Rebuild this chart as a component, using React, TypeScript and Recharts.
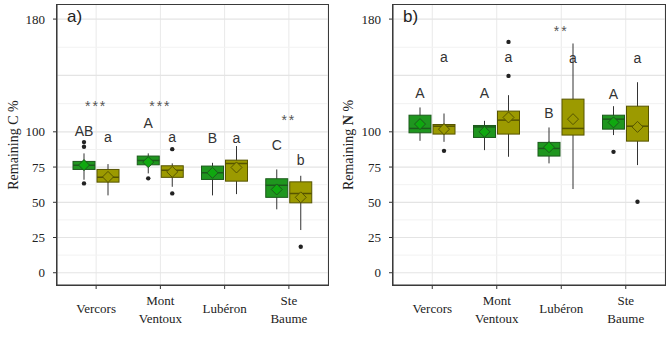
import React from "react"
import { ComposedChart, Bar, Scatter, XAxis, YAxis, CartesianGrid } from "recharts"

const CATS = ["Vercors", "Mont\nVentoux", "Lubéron", "Ste\nBaume"]
const Y_TICKS = [0, 25, 50, 75, 100, 180]
const GRID_MAJOR = [0, 25, 50, 75, 100, 140, 180]
const GRID_MINOR = [12.5, 37.5, 62.5, 87.5, 120, 160]

// box stats: [lower whisker, q1, median, q3, upper whisker]
const cGreenBox = [
    [66, 73.3, 76.2, 79, 84.7],
    [70.5, 76.6, 79.7, 82.8, 84.7],
    [54.9, 66.2, 70.9, 75.7, 78],
    [45, 53.5, 62, 66.7, 73.3],
]
const cGreenMean = [76.4, 78.5, 70.9, 59.1]
const cGreenOut = [[92.7, 89.4, 63.4], [67], [], []]
const cOliveBox = [
    [54.9, 64.3, 67.7, 73.3, 77.1],
    [61, 67.7, 72.8, 75.9, 77.6],
    [55.8, 65, 77.6, 79.9, 89.9],
    [30.3, 49.6, 56.3, 64.5, 68.8],
]
const cOliveMean = [68, 71.6, 74.7, 53.5]
const cOliveOut = [[], [87.7, 56.3], [], [18.4]]
const cGreenLetter = ["AB", "A", "B", "C"]
const cGreenLetterY = [97, 102.8, 91.8, 87]
const cOliveLetter = ["a", "a", "a", "b"]
const cOliveLetterY = [92.9, 92.9, 91.8, 76.4]
const cStars = ["***", "***", "", "**"]
const cStarY = [114.7, 114.7, null, 104.8]

const nGreenBox = [
    [93.6, 99.3, 102.4, 111.8, 117.3],
    [87, 96, 103.5, 104.5, 107.8],
    [77.6, 82.8, 88.2, 92.5, 103.1],
    [97.7, 101.9, 109, 111.8, 118.2],
]
const nGreenMean = [105.5, 100, 89.1, 106.7]
const nGreenOut = [[], [], [], [85.8]]
const nOliveBox = [
    [92.9, 98.4, 104, 105.2, 113],
    [82.3, 98.4, 108.3, 114.7, 126],
    [59.4, 97.7, 102.4, 123.2, 162.7],
    [76.4, 93.4, 104, 118.2, 135.2],
]
const nOliveMean = [101.9, 110.2, 109, 103.5]
const nOliveOut = [[86.5], [163.8, 139.7], [], [50.4]]
const nGreenLetter = ["A", "A", "B", "A"]
const nGreenLetterY = [124.3, 124.3, 109.5, 123.2]
const nOliveLetter = ["a", "a", "a", "a"]
const nOliveLetterY = [149.7, 149.7, 149, 149]
const nStars = ["", "", "**", ""]
const nStarY = [null, null, 167.9, null]

const GREEN = "#1f961f"
const GREEN_EDGE = "#1c5a1c"
const GREEN_MEAN = "#0fa80f"
const OLIVE = "#9c9a00"
const OLIVE_EDGE = "#565400"
const SERIF = "Liberation Serif, serif"
const SANS = "Liberation Sans, Arial, sans-serif"

type Series = {
    box: number[][]
    mean: number[]
    out: number[][]
    letter: string[]
    letterY: number[]
    fill: string
    edge: string
    meanFill: string
}

// draws a full boxplot from the bar's [lo, hi] pixel span (linear y scale)
const makeBoxShape = (s: Series) => (props: any) => {
    const { x, y, width, height, index } = props
    const [lo, q1, med, q3, hi] = s.box[index]
    const top = Math.min(y, y + height)
    const bot = Math.max(y, y + height)
    const k = (bot - top) / (hi - lo)
    const py = (v: number) => bot - (v - lo) * k
    const cx = x + width / 2
    const my = py(s.mean[index])
    return (
        <g>
            <line x1={cx} x2={cx} y1={py(hi)} y2={py(lo)} stroke="#333" strokeWidth={1} />
            <rect x={x} y={py(q3)} width={width} height={py(q1) - py(q3)} fill={s.fill} stroke={s.edge} strokeWidth={1} />
            <line x1={x} x2={x + width} y1={py(med)} y2={py(med)} stroke={s.edge} strokeWidth={1.5} />
            <polygon
                points={`${cx},${my - 5.5} ${cx + 5.5},${my} ${cx},${my + 5.5} ${cx - 5.5},${my}`}
                fill={s.meanFill}
                stroke={s.edge}
                strokeWidth={1}
            />
            {s.out[index].map((v, i) => (
                <circle key={i} cx={cx} cy={py(v)} r={2.2} fill="#222" />
            ))}
            <text x={cx} y={py(s.letterY[index])} textAnchor="middle" fontFamily={SANS} fontSize={14} fill="#333">
                {s.letter[index]}
            </text>
        </g>
    )
}

const StarShape = (props: any) => {
    const { cx, cy, payload } = props
    if (!payload.star) return null
    return (
        <text x={cx} y={cy} textAnchor="middle" fontFamily={SANS} fontSize={14} fill="#555" letterSpacing={2}>
            {payload.star}
        </text>
    )
}

const XTick = ({ x, y, payload }: any) => {
    const lines = String(payload.value).split("\n")
    const base = lines.length === 1 ? 22 : 14
    return (
        <text x={x} y={y} textAnchor="middle" fontFamily={SERIF} fontSize={13} fill="#222">
            {lines.map((l, i) => (
                <tspan key={i} x={x} y={y + base + i * 18}>
                    {l}
                </tspan>
            ))}
        </text>
    )
}

const YLab = ({ viewBox, letter }: any) => {
    const cx = viewBox.x + 13
    const cy = viewBox.y + viewBox.height / 2
    return (
        <text
            x={cx}
            y={cy}
            transform={`rotate(-90, ${cx}, ${cy})`}
            textAnchor="middle"
            dominantBaseline="central"
            fontFamily={SERIF}
            fontSize={14}
            fill="#222"
        >
            Remaining{"  "}
            <tspan fontWeight={letter === "N" ? "bold" : "normal"}>{letter}</tspan> %
        </text>
    )
}

function Panel(props: {
    width: number
    left: number
    right: number
    tag: string
    letter: string
    green: Series
    olive: Series
    stars: string[]
    starY: (number | null)[]
}) {
    const { green, olive, width, left, right } = props
    const rows = CATS.map((cat, i) => ({
        cat,
        green: [green.box[i][0], green.box[i][4]],
        olive: [olive.box[i][0], olive.box[i][4]],
        star: props.stars[i],
        starY: props.starY[i] ?? 0,
    }))
    return (
        <div style={{ position: "relative", width, height: 350 }}>
            <ComposedChart
                width={width}
                height={350}
                data={rows}
                margin={{ top: 5, right, bottom: 5, left: 0 }}
                barSize={22}
                barGap={2}
            >
                <CartesianGrid horizontal={false} stroke="#e9e9e9" />
                <CartesianGrid vertical={false} horizontalValues={GRID_MINOR} stroke="#f2f2f2" />
                <CartesianGrid vertical={false} horizontalValues={GRID_MAJOR} stroke="#e4e4e4" strokeWidth={1.2} />
                <XAxis
                    dataKey="cat"
                    padding={{ left: 7, right: 7 }}
                    height={60}
                    tick={<XTick />}
                    tickSize={4}
                    tickLine={{ stroke: "#333" }}
                    axisLine={{ stroke: "#333" }}
                    interval={0}
                />
                <YAxis
                    type="number"
                    domain={[-8.7, 190]}
                    ticks={Y_TICKS}
                    width={left}
                    interval={0}
                    tickSize={4}
                    tickMargin={8}
                    tickLine={{ stroke: "#333" }}
                    axisLine={{ stroke: "#333" }}
                    tick={{ fontFamily: SERIF, fontSize: 13, fill: "#222" }}
                    allowDataOverflow
                    label={<YLab letter={props.letter} />}
                />
                <Bar dataKey="green" shape={makeBoxShape(green)} isAnimationActive={false} />
                <Bar dataKey="olive" shape={makeBoxShape(olive)} isAnimationActive={false} />
                <Scatter dataKey="starY" shape={<StarShape />} isAnimationActive={false} />
            </ComposedChart>
            {/* panel frame */}
            <div
                style={{
                    position: "absolute",
                    left: left - 1,
                    top: 4,
                    width: width - left - right,
                    height: 280,
                    border: "1px solid #3a3a3a",
                    pointerEvents: "none",
                }}
            />
            <div
                style={{
                    position: "absolute",
                    left: left + 10,
                    top: 7,
                    fontFamily: SANS,
                    fontSize: 17,
                    color: "#222",
                }}
            >
                {props.tag}
            </div>
        </div>
    )
}

export default function App() {
    return (
        <div style={{ position: "absolute", left: 0, top: 0, width: 669, height: 350, background: "#fff", display: "flex" }}>
            <Panel
                width={335}
                left={57}
                right={7}
                tag="a)"
                letter="C"
                green={{ box: cGreenBox, mean: cGreenMean, out: cGreenOut, letter: cGreenLetter, letterY: cGreenLetterY, fill: GREEN, edge: GREEN_EDGE, meanFill: GREEN_MEAN }}
                olive={{ box: cOliveBox, mean: cOliveMean, out: cOliveOut, letter: cOliveLetter, letterY: cOliveLetterY, fill: OLIVE, edge: OLIVE_EDGE, meanFill: OLIVE }}
                stars={cStars}
                starY={cStarY}
            />
            <Panel
                width={334}
                left={58}
                right={4}
                tag="b)"
                letter="N"
                green={{ box: nGreenBox, mean: nGreenMean, out: nGreenOut, letter: nGreenLetter, letterY: nGreenLetterY, fill: GREEN, edge: GREEN_EDGE, meanFill: GREEN_MEAN }}
                olive={{ box: nOliveBox, mean: nOliveMean, out: nOliveOut, letter: nOliveLetter, letterY: nOliveLetterY, fill: OLIVE, edge: OLIVE_EDGE, meanFill: OLIVE }}
                stars={nStars}
                starY={nStarY}
            />
        </div>
    )
}
